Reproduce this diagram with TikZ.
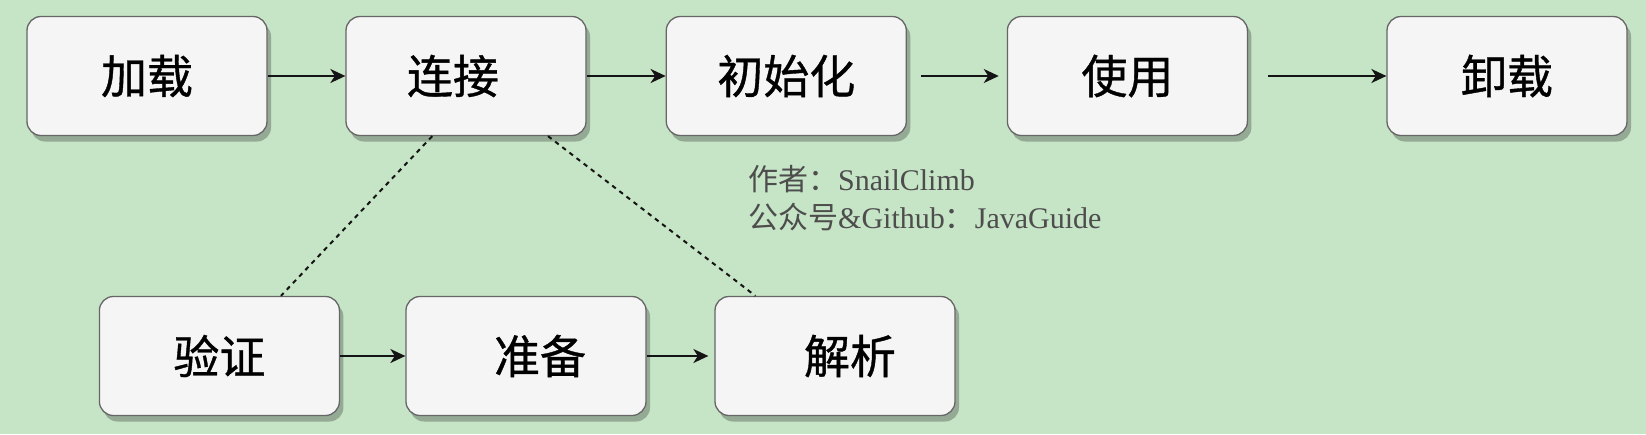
\documentclass[tikz,border=0pt]{standalone}
\usepackage{fontspec}
\setmainfont{Liberation Serif}
\newfontfamily\cjk{Noto Sans CJK SC}
\newfontfamily\cjkm{Noto Sans CJK SC}[FakeBold=0.8]
\usetikzlibrary{arrows.meta,shadows,calc}
\definecolor{bg}{RGB}{198,228,198}
\definecolor{boxfill}{RGB}{245,245,245}
\definecolor{boxline}{RGB}{102,102,102}
\definecolor{notecol}{RGB}{77,77,77}
\definecolor{ink}{RGB}{20,20,20}
\begin{document}
\begin{tikzpicture}[x=1pt,y=-1pt,
  stagebox/.style={draw=boxline, line width=1.3pt, fill=boxfill, rounded corners=14pt,
    minimum width=240pt, minimum height=119pt, inner sep=0pt,
    font=\cjkm\fontsize{46}{50}\selectfont,
    drop shadow={shadow xshift=4pt, shadow yshift=-6pt, fill=black, opacity=0.25}},
  flow/.style={draw=ink, line width=2pt, -{Stealth[length=15pt,width=14pt,inset=4.5pt]}},
  dashlink/.style={draw=ink, line width=2pt, dash pattern=on 4.5pt off 4.5pt}]
\useasboundingbox (0,0) rectangle (1646,434);
\fill[bg] (0,0) rectangle (1646,434);

\node[stagebox] (load)    at (147,76)    {加载};
\node[stagebox] (link)    at (466,76)    {连接\hspace*{26pt}};
\node[stagebox] (init)    at (786.3,76)  {初始化};
\node[stagebox] (use)     at (1127.4,76) {使用};
\node[stagebox] (unload)  at (1507,76)   {卸载};
\node[stagebox] (verify)  at (219.4,356) {验证};
\node[stagebox] (prep)    at (526,356)   {\hspace*{28pt}准备};
\node[stagebox] (resolve) at (835,356)   {\hspace*{30pt}解析};

\draw[flow] (load) -- (link);
\draw[flow] (link) -- (init);
\draw[flow, shorten <=14pt, shorten >=8pt] (init) -- (use);
\draw[flow, shorten <=20pt] (use) -- (unload);
\draw[flow] (verify) -- (prep);
\draw[flow, shorten >=6pt] (prep) -- (resolve);

\draw[dashlink] ($(link.south west)!0.36!(link.south east)$) -- ($(verify.north west)!0.755!(verify.north east)$);
\draw[dashlink] ($(link.south west)!0.84!(link.south east)$) -- ($(resolve.north west)!0.17!(resolve.north east)$);

\node[anchor=north west, align=left, text=notecol, inner sep=0pt,
  font=\fontsize{30}{38}\selectfont] (note) at (748,165)
  {{\cjk 作者：}SnailClimb\\{\cjk 公众号}\&Github{\cjk ：}JavaGuide};
\end{tikzpicture}
\end{document}
